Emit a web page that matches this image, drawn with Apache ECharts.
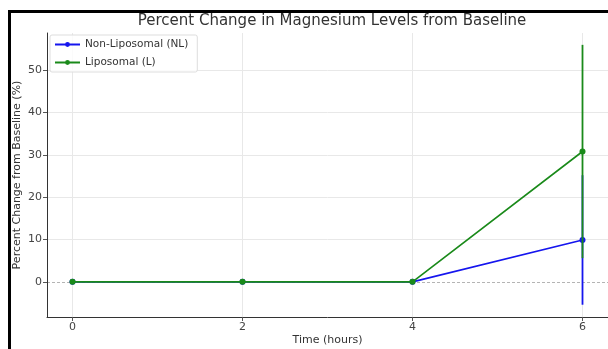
<!DOCTYPE html>
<html>
<head>
<meta charset="utf-8">
<script src="https://cdn.jsdelivr.net/npm/echarts@6/dist/echarts.min.js"></script>
<style>
  html, body { margin: 0; padding: 0; background: #fff; }
  #chart { position: absolute; left: 0; top: 0; width: 608px; height: 349px; }
  #frame { position: absolute; left: 8px; top: 10px; width: 600px; height: 339px;
           border-left: 3px solid #000; border-top: 3px solid #000; box-sizing: border-box; pointer-events: none; }
</style>
</head>
<body>
<div id="chart"></div>
<div id="frame"></div>
<script>
const times = [0, 2, 4, 6];
const nlValues = [0, 0, 0, 9.9];
const nlErrors = [0, 0, 0, 15.3];
const lValues = [0, 0, 0, 30.8];
const lErrors = [0, 0, 0, 25.2];
const xTicks = [0, 2, 4, 6];
const yTicks = [0, 10, 20, 30, 40, 50];
const seriesNames = ['Non-Liposomal (NL)', 'Liposomal (L)'];
const titleText = 'Percent Change in Magnesium Levels from Baseline';

const FONT = 'DejaVu Sans';
const BLUE = '#1515ee';
const GREEN = '#1a8a1a';
const chart = echarts.init(document.getElementById('chart'), null, { renderer: 'canvas' });

function pairs(xs, ys) { return xs.map((x, i) => [x, ys[i]]); }
function errData(xs, ys, es) { return xs.map((x, i) => [x, ys[i], es[i]]); }
function errSeries(name, data, color, z) {
  return {
    name: name, type: 'custom', z: z, silent: true,
    data: data,
    itemStyle: { color: color },
    encode: { x: 0, y: 1 },
    renderItem: function (params, api) {
      const x = api.value(0), y = api.value(1), e = api.value(2);
      if (!e) return null;
      const p1 = api.coord([x, y - e]);
      const p2 = api.coord([x, y + e]);
      return { type: 'line', shape: { x1: p1[0], y1: p1[1], x2: p2[0], y2: p2[1] },
               style: { stroke: color, lineWidth: 1.8, fill: null } };
    }
  };
}

const option = {
  animation: false,
  backgroundColor: '#fff',
  title: {
    text: titleText, left: 327, top: 9, textAlign: 'center',
    textStyle: { fontFamily: FONT, fontSize: 15, fontWeight: 'normal', color: '#333' }
  },
  legend: {
    data: seriesNames, orient: 'vertical', left: 50, top: 35,
    itemWidth: 25, itemHeight: 6, itemGap: 7,
    padding: [4, 9, 4, 4],
    borderColor: '#dddddd', borderWidth: 1, borderRadius: 2,
    backgroundColor: 'rgba(255,255,255,0.8)',
    textStyle: { fontFamily: FONT, fontSize: 10.5, color: '#333' }
  },
  grid: { left: 47, top: 33, right: 0, bottom: 32, containLabel: false, outerBoundsMode: 'none' },
  xAxis: {
    type: 'value', min: -0.3, max: 6.3,
    name: 'Time (hours)', nameLocation: 'middle', nameGap: 18, nameMoveOverlap: false,
    nameTextStyle: { fontFamily: FONT, fontSize: 11, color: '#333' },
    axisLine: { show: true, onZero: false, lineStyle: { color: '#333', width: 1 } },
    axisTick: { show: true, customValues: xTicks, length: 4, lineStyle: { color: '#555' } },
    axisLabel: { customValues: xTicks, fontFamily: FONT, fontSize: 11, color: '#444', margin: 5 },
    splitLine: { show: false }
  },
  yAxis: {
    type: 'value', min: -8.3, max: 58.8,
    name: 'Percent Change from Baseline (%)', nameLocation: 'middle', nameGap: 24, nameMoveOverlap: false,
    nameTextStyle: { fontFamily: FONT, fontSize: 11, color: '#333' },
    axisLine: { show: true, onZero: false, lineStyle: { color: '#333', width: 1 } },
    axisTick: { show: true, customValues: yTicks, length: 4, lineStyle: { color: '#555' } },
    axisLabel: { customValues: yTicks, fontFamily: FONT, fontSize: 11, color: '#444', margin: 5 },
    splitLine: { show: false }
  },
  series: [
    {
      name: '_grid', type: 'line', z: 0, silent: true, data: [],
      markLine: {
        z: 0, silent: true, symbol: 'none', label: { show: false }, animation: false,
        data: xTicks.map(v => ({ xAxis: v, lineStyle: { color: '#e8e8e8', width: 1, type: 'solid' } }))
          .concat(yTicks.filter(v => v !== 0).map(v => ({ yAxis: v, lineStyle: { color: '#e8e8e8', width: 1, type: 'solid' } })))
          .concat([{ yAxis: 0, lineStyle: { color: '#b4b4b4', width: 1, type: [3, 2] } }])
      }
    },
    {
      name: seriesNames[0], type: 'line', z: 2, data: pairs(times, nlValues),
      symbol: 'circle', symbolSize: 6, showSymbol: true,
      itemStyle: { color: BLUE, borderWidth: 0 }, lineStyle: { color: BLUE, width: 1.6 }
    },
    errSeries(seriesNames[0], errData(times, nlValues, nlErrors), BLUE, 2),
    {
      name: seriesNames[1], type: 'line', z: 3, data: pairs(times, lValues),
      symbol: 'circle', symbolSize: 6, showSymbol: true,
      itemStyle: { color: GREEN, borderWidth: 0 }, lineStyle: { color: GREEN, width: 1.6 }
    },
    errSeries(seriesNames[1], errData(times, lValues, lErrors), GREEN, 3)
  ]
};
chart.setOption(option);
</script>
</body>
</html>
